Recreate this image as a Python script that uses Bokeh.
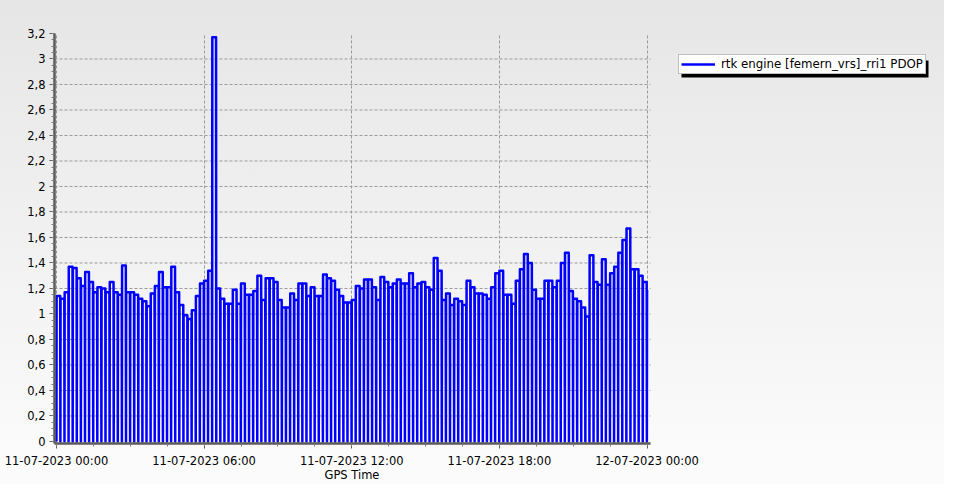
import numpy as np
from bokeh.plotting import figure
from bokeh.models import (FixedTicker, Legend, LegendItem, InlineStyleSheet,
                          Range1d, ColumnDataSource, Title, BoxAnnotation)
from bokeh.embed import file_html
from bokeh.resources import INLINE

# ---- data (PDOP read every 10 minutes, 11-07-2023 00:00 .. 12-07-2023 00:00)
sample_minutes = list(range(0, 1441, 10))
pdop = [
    1.14, 1.12, 1.17, 1.37, 1.36, 1.28, 1.22, 1.33, 1.25, 1.17,
    1.21, 1.20, 1.17, 1.25, 1.17, 1.15, 1.38, 1.17, 1.17, 1.15,
    1.12, 1.10, 1.06, 1.16, 1.22, 1.33, 1.21, 1.21, 1.37, 1.17,
    1.07, 0.99, 0.96, 1.03, 1.14, 1.24, 1.26, 1.34, 3.17, 1.20,
    1.12, 1.08, 1.08, 1.19, 1.08, 1.24, 1.15, 1.15, 1.18, 1.30,
    1.11, 1.28, 1.28, 1.25, 1.11, 1.05, 1.05, 1.16, 1.11, 1.24,
    1.24, 1.14, 1.21, 1.14, 1.14, 1.31, 1.28, 1.26, 1.19, 1.14,
    1.09, 1.09, 1.11, 1.22, 1.20, 1.27, 1.27, 1.21, 1.11, 1.29,
    1.25, 1.21, 1.24, 1.27, 1.24, 1.24, 1.32, 1.21, 1.24, 1.25,
    1.21, 1.19, 1.44, 1.34, 1.11, 1.16, 1.07, 1.12, 1.10, 1.07,
    1.26, 1.21, 1.16, 1.16, 1.15, 1.12, 1.21, 1.32, 1.34, 1.15,
    1.15, 1.08, 1.26, 1.35, 1.47, 1.40, 1.19, 1.12, 1.12, 1.26,
    1.26, 1.21, 1.26, 1.40, 1.48, 1.18, 1.12, 1.10, 1.05, 0.98,
    1.46, 1.25, 1.23, 1.43, 1.23, 1.32, 1.37, 1.48, 1.58, 1.67,
    1.35, 1.35, 1.30, 1.25, 1.19,
]
# PDOP logged as 0 during the short outage at the end of every 10-minute block
outage_value = 0.0

x_tick_hours = [0, 6, 12, 18, 24]
x_tick_labels = ["11-07-2023 00:00", "11-07-2023 06:00", "11-07-2023 12:00",
                 "11-07-2023 18:00", "12-07-2023 00:00"]
y_ticks = [0, 0.2, 0.4, 0.6, 0.8, 1.0, 1.2, 1.4, 1.6, 1.8, 2.0, 2.2, 2.4,
           2.6, 2.8, 3.0, 3.2]
y_tick_labels = ["0", "0,2", "0,4", "0,6", "0,8", "1", "1,2", "1,4", "1,6",
                 "1,8", "2", "2,2", "2,4", "2,6", "2,8", "3", "3,2"]
x_title = "GPS Time"
series_name = "rtk engine [femern_vrs]_rri1 PDOP"

# ---- build the drawn trace: hold each sample, then the outage drop to zero
xs, ys = [0.0], [outage_value]
for i, (m, v) in enumerate(zip(sample_minutes, pdop)):
    if i == 0:
        xs.append(0.35 / 60); ys.append(v)
    else:
        xs.append(m / 60); ys.append(v)
    if i < len(pdop) - 1:
        xs.append((m + 9.1) / 60); ys.append(v)
        xs.append((m + 9.55) / 60); ys.append(outage_value)
src = ColumnDataSource(dict(x=xs, y=ys))

FONT = "DejaVu Sans"
W, H = 944, 484
LEFT, PLOT_RIGHT = 54, 650          # visible axis area (px)
X0, X1 = -0.08, 24.14               # hours shown on the axis
x_end = X0 + (X1 - X0) * (W - LEFT) / (PLOT_RIGHT - LEFT)

p = figure(width=W, height=H, output_backend="svg", toolbar_location=None,
           x_range=Range1d(X0, x_end), y_range=Range1d(-0.016, 3.2),
           min_border_left=LEFT, min_border_right=0, min_border_top=33,
           min_border_bottom=41)
p.background_fill_alpha = 0
p.border_fill_alpha = 0
p.outline_line_color = None
p.stylesheets = [InlineStyleSheet(css=":host { background: linear-gradient(#e6e6e6, #fcfcfc); }")]

# horizontal dashed grid lines, limited to the axis extent
p.ygrid.visible = False
p.segment(x0=[X0] * (len(y_ticks) - 2), x1=[X1] * (len(y_ticks) - 2),
          y0=y_ticks[1:-1], y1=y_ticks[1:-1], line_color="#9a9a9a",
          line_dash="3 2", line_width=1)

r = p.line("x", "y", source=src, line_color="#0000ff", line_width=2.5,
           line_join="round")

# axes
p.xaxis.bounds = (X0, X1)
p.xaxis.ticker = FixedTicker(ticks=x_tick_hours,
                             minor_ticks=[h * 1.5 for h in range(0, 17)])
p.xaxis.major_label_overrides = {h: lab for h, lab in zip(x_tick_hours, x_tick_labels)}
p.yaxis.ticker = FixedTicker(ticks=y_ticks,
                             minor_ticks=[k * 0.05 for k in range(0, 65)])
p.yaxis.major_label_overrides = {t: lab for t, lab in zip(y_ticks, y_tick_labels)}

for ax in (p.xaxis[0], p.yaxis[0]):
    ax.axis_line_color = "#5a5a5a"
    ax.axis_line_width = 2.5
    ax.major_tick_line_color = "#5a5a5a"
    ax.minor_tick_line_color = "#7a7a7a"
    ax.major_tick_in = 0
    ax.major_tick_out = 5
    ax.minor_tick_in = 0
    ax.minor_tick_out = 3
    ax.major_label_text_font = FONT
    ax.major_label_text_font_size = "11.5px"
    ax.major_label_text_color = "#000000"
p.xaxis.major_label_standoff = 5
p.yaxis.major_label_standoff = 4

# axis title centred under the visible axis (not the whole frame)
p.add_layout(Title(text=x_title, align="left", offset=270, standoff=-9,
                   text_font=FONT, text_font_size="11.5px",
                   text_font_style="normal", text_color="#000000"), "below")

p.xgrid.ticker = FixedTicker(ticks=x_tick_hours)
p.xgrid.grid_line_color = "#9a9a9a"
p.xgrid.grid_line_dash = "3 2"
p.xgrid.grid_line_width = 1

# legend drop shadow (canvas pixels) and the legend itself
p.add_layout(BoxAnnotation(left=681, right=928, top=60, bottom=77,
                           left_units="canvas", right_units="canvas",
                           top_units="canvas", bottom_units="canvas",
                           fill_color="#000000", fill_alpha=1.0,
                           line_color=None))
legend = Legend(items=[LegendItem(label=series_name, renderers=[r])],
                location=(624, 369), orientation="vertical",
                label_text_font=FONT, label_text_font_size="11.8px",
                label_text_color="#000000",
                background_fill_color="#ffffff", background_fill_alpha=1.0,
                border_line_color="#808080", border_line_width=1,
                padding=2, margin=0, spacing=0,
                glyph_width=34, glyph_height=10, label_height=10,
                label_standoff=6)
p.add_layout(legend, "center")

open("out.html", "w").write(file_html(p, INLINE))
